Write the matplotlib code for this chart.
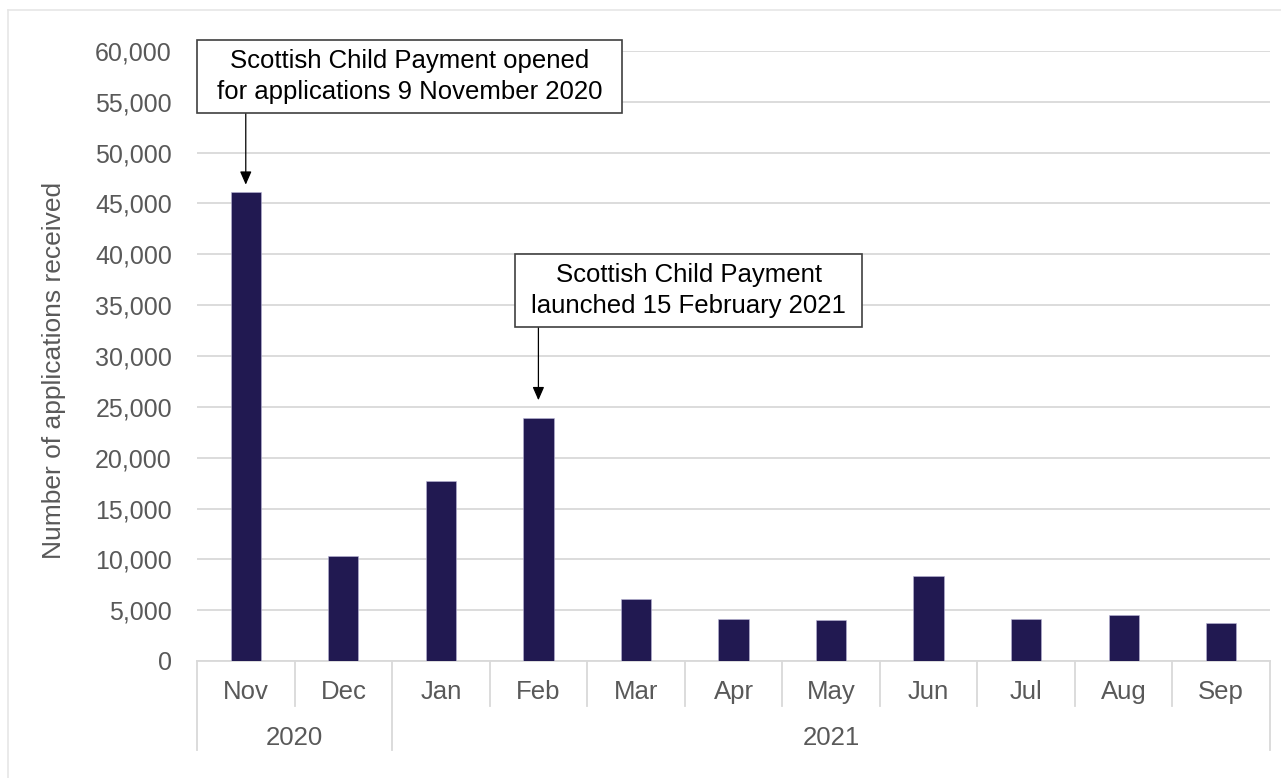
import matplotlib
matplotlib.use("Agg")
import matplotlib.pyplot as plt
from matplotlib.ticker import FuncFormatter, MultipleLocator
from matplotlib.lines import Line2D
from matplotlib.patches import Rectangle
import matplotlib.transforms as mtransforms

plt.rcParams['font.family'] = ['Liberation Sans', 'DejaVu Sans']

months = ["Nov", "Dec", "Jan", "Feb", "Mar", "Apr", "May", "Jun", "Jul", "Aug", "Sep"]
years = ["2020", "2021"]
year_counts = [2, 9]
applications = [46100, 10300, 17750, 23950, 6050, 4100, 4080, 8400, 4150, 4550, 3700]

ann1_text = "Scottish Child Payment opened\nfor applications 9 November 2020"
ann2_text = "Scottish Child Payment\nlaunched 15 February 2021"

GRAY = "#595959"
GRID = "#d9d9d9"
BAR = "#211951"

fig = plt.figure(figsize=(12.81, 7.78), dpi=100)
ax = fig.add_axes([197/1281, 1-661/778, (1270-197)/1281, (661-51)/778])

x = list(range(len(months)))
ax.bar(x, applications, width=0.31, color=BAR, edgecolor="#b9b5d6", linewidth=0.4, zorder=3)

ax.set_xlim(-0.5, len(months)-0.5)
ax.set_ylim(0, 60000)
ax.yaxis.set_major_locator(MultipleLocator(5000))
ax.yaxis.set_major_formatter(FuncFormatter(lambda v, p: f"{int(v):,}"))
ax.grid(axis='y', color=GRID, linewidth=1.3, zorder=0)
for s in ['top', 'right', 'left']:
    ax.spines[s].set_visible(False)
ax.spines['bottom'].set_color(GRID)
ax.spines['bottom'].set_linewidth(1.3)
ax.tick_params(axis='y', length=0, pad=18, labelsize=18, labelcolor=GRAY)
ax.set_xticks([])
ax.set_ylabel("Number of applications received", fontsize=19, color=GRAY)
ax.yaxis.set_label_coords(-0.122, 0.477)

# multi-level category axis
trans = mtransforms.blended_transform_factory(ax.transData, ax.transAxes)
short_bottom = (661-706)/610
long_bottom = (661-750)/610
month_y = (661-692)/610
year_y = (661-738)/610
group_edges = [-0.5]
for c in year_counts:
    group_edges.append(group_edges[-1] + c)
for i in range(len(months)+1):
    xb = i - 0.5
    bottom = long_bottom if xb in group_edges else short_bottom
    ax.add_line(Line2D([xb, xb], [0, bottom], transform=trans, color=GRID, linewidth=1.3, clip_on=False))
for i, m in enumerate(months):
    ax.text(i, month_y, m, transform=trans, ha='center', va='center', fontsize=18.5, color=GRAY)
for j, yname in enumerate(years):
    cx = (group_edges[j] + group_edges[j+1]) / 2
    ax.text(cx, year_y, yname, transform=trans, ha='center', va='center', fontsize=18.5, color=GRAY)

# annotations (boxes drawn as rectangles, text centred inside)
def note(x0, x1, y0, y1, text):
    ax.add_patch(Rectangle((x0, y0), x1 - x0, y1 - y0, facecolor='white', edgecolor='#404040',
                           linewidth=1.2, zorder=5, clip_on=False))
    ax.text((x0 + x1) / 2, (y0 + y1) / 2, text, ha='center', va='center', fontsize=18.5,
            color='black', zorder=6, linespacing=1.35)

note(-0.5, 3.86, 53900, 61080, ann1_text)
note(2.762, 6.32, 32850, 40030, ann2_text)

arrowprops = dict(arrowstyle='-|>,head_length=0.8,head_width=0.35', color='black', linewidth=0.9,
                  shrinkA=0, shrinkB=0)
ax.annotate("", xy=(0, applications[0] + 750), xytext=(0, 53900), arrowprops=arrowprops, zorder=4)
ax.annotate("", xy=(3, applications[3] + 1700), xytext=(3, 32850), arrowprops=arrowprops, zorder=4)

# faint outer frame (top and left)
fig.add_artist(Line2D([8/1281, 1], [1-10/778, 1-10/778], transform=fig.transFigure, color='#e6e6e6', linewidth=1.2))
fig.add_artist(Line2D([8/1281, 8/1281], [1-10/778, 0], transform=fig.transFigure, color='#e6e6e6', linewidth=1.2))

fig.savefig("out.png", dpi=100, facecolor='white')
